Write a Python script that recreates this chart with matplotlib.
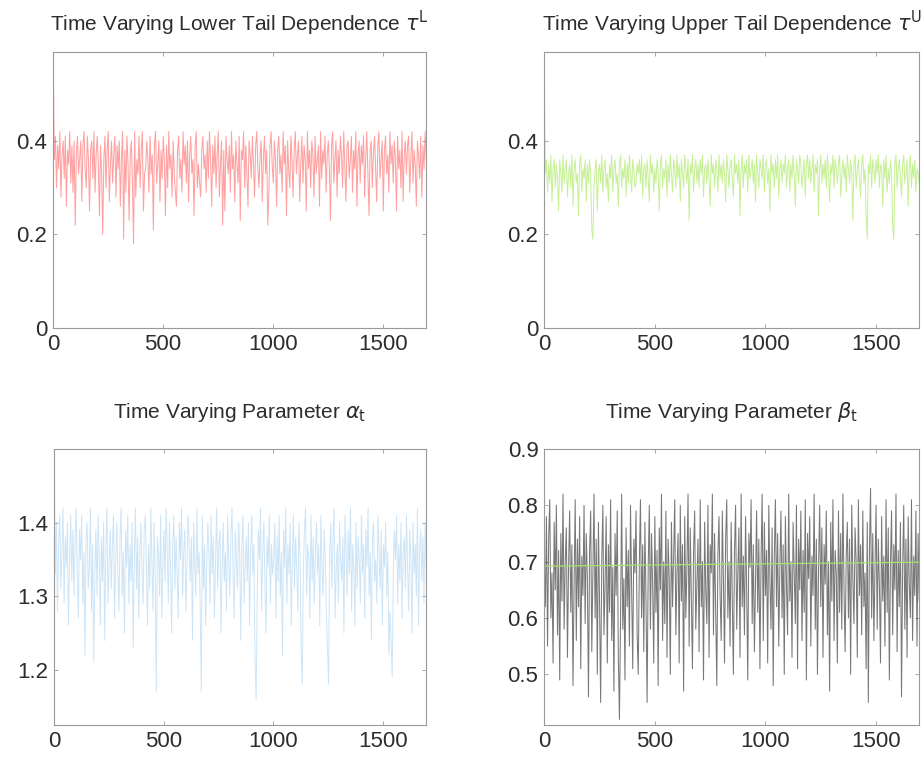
import numpy as np
import matplotlib.pyplot as plt

plt.rcParams['font.family'] = ['Liberation Sans', 'DejaVu Sans']
plt.rcParams['mathtext.fontset'] = 'dejavusans'

# filtered tail dependence and copula parameters, sampled every 5 obs
tau_L = [
    0.59, 0.36, 0.41, 0.30, 0.39, 0.34, 0.42, 0.28, 0.37, 0.40, 0.32, 0.41, 0.26, 0.38, 0.35, 0.42, 0.31, 0.39, 0.29, 0.40,
    0.22, 0.37, 0.41, 0.33, 0.36, 0.40, 0.27, 0.39, 0.42, 0.34, 0.30, 0.41, 0.36, 0.25, 0.38, 0.40, 0.32, 0.42, 0.29, 0.37,
    0.41, 0.35, 0.24, 0.39, 0.33, 0.20, 0.36, 0.41, 0.30, 0.38, 0.42, 0.27, 0.35, 0.40, 0.31, 0.37, 0.41, 0.28, 0.39, 0.34,
    0.40, 0.26, 0.36, 0.42, 0.19, 0.38, 0.29, 0.41, 0.35, 0.23, 0.37, 0.40, 0.31, 0.18, 0.42, 0.28, 0.36, 0.33, 0.41, 0.30,
    0.38, 0.42, 0.25, 0.33, 0.34, 0.40, 0.36, 0.29, 0.41, 0.33, 0.37, 0.21, 0.39, 0.42, 0.31, 0.35, 0.40, 0.27, 0.38, 0.32,
    0.41, 0.36, 0.24, 0.39, 0.30, 0.42, 0.34, 0.37, 0.28, 0.40, 0.33, 0.29, 0.26, 0.38, 0.41, 0.32, 0.36, 0.29, 0.42, 0.35,
    0.39, 0.31, 0.40, 0.27, 0.37, 0.41, 0.33, 0.36, 0.24, 0.39, 0.42, 0.30, 0.35, 0.31, 0.28, 0.38, 0.41, 0.34, 0.37, 0.29,
    0.40, 0.32, 0.42, 0.36, 0.26, 0.39, 0.33, 0.41, 0.30, 0.37, 0.42, 0.28, 0.35, 0.40, 0.22, 0.38, 0.25, 0.41, 0.36, 0.33,
    0.39, 0.29, 0.42, 0.34, 0.37, 0.27, 0.40, 0.35, 0.31, 0.41, 0.23, 0.38, 0.36, 0.42, 0.30, 0.39, 0.33, 0.26, 0.40, 0.37,
    0.32, 0.41, 0.35, 0.28, 0.39, 0.42, 0.34, 0.30, 0.37, 0.40, 0.27, 0.36, 0.41, 0.33, 0.38, 0.22, 0.29, 0.39, 0.42, 0.35,
    0.31, 0.40, 0.36, 0.26, 0.38, 0.41, 0.33, 0.37, 0.29, 0.42, 0.35, 0.39, 0.24, 0.40, 0.34, 0.30, 0.41, 0.36, 0.28, 0.38,
    0.42, 0.33, 0.37, 0.40, 0.27, 0.35, 0.41, 0.31, 0.39, 0.36, 0.25, 0.42, 0.34, 0.38, 0.30, 0.40, 0.37, 0.28, 0.41, 0.33,
    0.36, 0.39, 0.26, 0.42, 0.32, 0.38, 0.35, 0.41, 0.29, 0.37, 0.40, 0.34, 0.23, 0.39, 0.42, 0.31, 0.36, 0.40, 0.28, 0.38,
    0.33, 0.41, 0.37, 0.30, 0.42, 0.35, 0.27, 0.39, 0.40, 0.32, 0.36, 0.41, 0.29, 0.38, 0.34, 0.42, 0.26, 0.37, 0.40, 0.31,
    0.39, 0.35, 0.41, 0.28, 0.36, 0.42, 0.33, 0.24, 0.38, 0.40, 0.30, 0.37, 0.41, 0.34, 0.27, 0.39, 0.42, 0.32, 0.36, 0.40,
    0.25, 0.38, 0.41, 0.33, 0.37, 0.29, 0.42, 0.35, 0.39, 0.31, 0.40, 0.36, 0.25, 0.41, 0.34, 0.38, 0.30, 0.42, 0.27, 0.37,
    0.40, 0.33, 0.39, 0.41, 0.29, 0.36, 0.42, 0.31, 0.38, 0.35, 0.26, 0.40, 0.37, 0.32, 0.41, 0.28, 0.39, 0.34, 0.42, 0.36,
]

tau_U = [
    0.58, 0.33, 0.36, 0.29, 0.35, 0.31, 0.37, 0.27, 0.34, 0.36, 0.30, 0.35, 0.32, 0.25, 0.36, 0.33, 0.29, 0.37, 0.31, 0.34,
    0.36, 0.28, 0.33, 0.35, 0.30, 0.37, 0.26, 0.34, 0.36, 0.31, 0.33, 0.24, 0.35, 0.37, 0.29, 0.34, 0.32, 0.36, 0.27, 0.35,
    0.31, 0.36, 0.33, 0.21, 0.19, 0.30, 0.34, 0.36, 0.25, 0.33, 0.35, 0.31, 0.37, 0.29, 0.34, 0.36, 0.30, 0.33, 0.27, 0.35,
    0.32, 0.37, 0.29, 0.34, 0.36, 0.31, 0.33, 0.26, 0.35, 0.37, 0.30, 0.34, 0.32, 0.36, 0.28, 0.35, 0.31, 0.37, 0.33, 0.29,
    0.36, 0.34, 0.30, 0.31, 0.35, 0.33, 0.36, 0.31, 0.37, 0.28, 0.34, 0.35, 0.30, 0.36, 0.32, 0.27, 0.37, 0.33, 0.35, 0.29,
    0.34, 0.31, 0.36, 0.33, 0.25, 0.35, 0.37, 0.30, 0.34, 0.32, 0.36, 0.28, 0.35, 0.31, 0.37, 0.33, 0.29, 0.36, 0.34, 0.30,
    0.37, 0.32, 0.35, 0.27, 0.36, 0.33, 0.30, 0.37, 0.34, 0.31, 0.36, 0.23, 0.35, 0.33, 0.37, 0.29, 0.34, 0.36, 0.31, 0.35,
    0.30, 0.36, 0.33, 0.37, 0.28, 0.34, 0.35, 0.31, 0.36, 0.32, 0.26, 0.37, 0.33, 0.35, 0.30, 0.36, 0.34, 0.29, 0.37, 0.32,
    0.35, 0.31, 0.36, 0.33, 0.27, 0.37, 0.34, 0.30, 0.35, 0.36, 0.32, 0.28, 0.37, 0.33, 0.35, 0.31, 0.36, 0.24, 0.34, 0.37,
    0.30, 0.35, 0.33, 0.36, 0.29, 0.37, 0.32, 0.34, 0.36, 0.31, 0.35, 0.27, 0.37, 0.33, 0.30, 0.36, 0.34, 0.32, 0.37, 0.29,
    0.35, 0.36, 0.31, 0.34, 0.25, 0.37, 0.33, 0.35, 0.30, 0.36, 0.32, 0.37, 0.28, 0.34, 0.36, 0.31, 0.35, 0.33, 0.37, 0.30,
    0.34, 0.36, 0.29, 0.35, 0.32, 0.37, 0.33, 0.26, 0.36, 0.34, 0.31, 0.37, 0.35, 0.30, 0.33, 0.36, 0.28, 0.35, 0.37, 0.32,
    0.36, 0.31, 0.34, 0.37, 0.29, 0.35, 0.33, 0.36, 0.24, 0.34, 0.37, 0.31, 0.35, 0.32, 0.36, 0.30, 0.37, 0.33, 0.27, 0.35,
    0.33, 0.37, 0.30, 0.36, 0.34, 0.31, 0.35, 0.37, 0.28, 0.33, 0.36, 0.32, 0.35, 0.29, 0.37, 0.34, 0.31, 0.36, 0.33, 0.23,
    0.35, 0.37, 0.30, 0.34, 0.36, 0.32, 0.28, 0.35, 0.37, 0.31, 0.34, 0.24, 0.19, 0.35, 0.33, 0.37, 0.30, 0.36, 0.34, 0.31,
    0.36, 0.33, 0.37, 0.30, 0.35, 0.34, 0.26, 0.36, 0.32, 0.37, 0.29, 0.34, 0.31, 0.36, 0.33, 0.22, 0.19, 0.35, 0.37, 0.30,
    0.34, 0.36, 0.32, 0.28, 0.35, 0.37, 0.31, 0.33, 0.36, 0.26, 0.34, 0.37, 0.30, 0.35, 0.32, 0.36, 0.29, 0.34, 0.33, 0.31,
]

alpha_t = [
    1.50, 1.33, 1.40, 1.28, 1.37, 1.41, 1.31, 1.36, 1.42, 1.29, 1.38, 1.34, 1.40, 1.26, 1.35, 1.41, 1.32, 1.39, 1.30, 1.37,
    1.42, 1.33, 1.27, 1.39, 1.35, 1.41, 1.29, 1.36, 1.22, 1.38, 1.40, 1.31, 1.34, 1.42, 1.28, 1.37, 1.21, 1.33, 1.39, 1.30,
    1.41, 1.35, 1.26, 1.38, 1.32, 1.40, 1.24, 1.36, 1.42, 1.29, 1.34, 1.39, 1.31, 1.37, 1.41, 1.27, 1.35, 1.40, 1.33, 1.28,
    1.38, 1.42, 1.30, 1.36, 1.25, 1.39, 1.34, 1.41, 1.29, 1.37, 1.32, 1.40, 1.23, 1.35, 1.42, 1.31, 1.38, 1.27, 1.36, 1.40,
    1.33, 1.29, 1.39, 1.41, 1.34, 1.26, 1.37, 1.31, 1.42, 1.35, 1.28, 1.40, 1.33, 1.17, 1.38, 1.36, 1.30, 1.41, 1.27, 1.34,
    1.39, 1.32, 1.42, 1.36, 1.29, 1.40, 1.34, 1.25, 1.37, 1.41, 1.31, 1.38, 1.33, 1.27, 1.40, 1.35, 1.42, 1.30, 1.36, 1.39,
    1.28, 1.34, 1.41, 1.37, 1.32, 1.38, 1.24, 1.40, 1.35, 1.30, 1.42, 1.33, 1.36, 1.29, 1.17, 1.41, 1.31, 1.37, 1.26, 1.34,
    1.40, 1.36, 1.29, 1.41, 1.33, 1.38, 1.27, 1.35, 1.42, 1.31, 1.37, 1.39, 1.25, 1.34, 1.40, 1.32, 1.36, 1.28, 1.41, 1.35,
    1.30, 1.38, 1.42, 1.33, 1.27, 1.39, 1.35, 1.31, 1.40, 1.36, 1.24, 1.37, 1.41, 1.29, 1.34, 1.38, 1.32, 1.40, 1.26, 1.36,
    1.41, 1.33, 1.37, 1.21, 1.16, 1.30, 1.39, 1.35, 1.42, 1.28, 1.36, 1.40, 1.32, 1.25, 1.38, 1.34, 1.41, 1.29, 1.37, 1.33,
    1.35, 1.40, 1.27, 1.38, 1.32, 1.41, 1.30, 1.36, 1.22, 1.39, 1.34, 1.42, 1.29, 1.37, 1.33, 1.40, 1.26, 1.35, 1.41, 1.31,
    1.38, 1.34, 1.28, 1.40, 1.36, 1.23, 1.18, 1.33, 1.39, 1.42, 1.30, 1.37, 1.35, 1.27, 1.41, 1.32, 1.38, 1.29, 1.36, 1.40,
    1.33, 1.37, 1.26, 1.41, 1.34, 1.30, 1.39, 1.35, 1.28, 1.23, 1.18, 1.36, 1.40, 1.31, 1.38, 1.42, 1.27, 1.34, 1.37, 1.29,
    1.40, 1.35, 1.32, 1.38, 1.25, 1.41, 1.36, 1.30, 1.39, 1.33, 1.42, 1.28, 1.37, 1.34, 1.26, 1.40, 1.31, 1.38, 1.35, 1.29,
    1.41, 1.33, 1.37, 1.27, 1.39, 1.34, 1.42, 1.30, 1.36, 1.24, 1.38, 1.40, 1.32, 1.35, 1.29, 1.41, 1.36, 1.31, 1.39, 1.26,
    1.37, 1.34, 1.40, 1.30, 1.36, 1.22, 1.28, 1.24, 1.19, 1.33, 1.39, 1.35, 1.41, 1.29, 1.37, 1.32, 1.40, 1.27, 1.36, 1.38,
    1.31, 1.41, 1.34, 1.28, 1.39, 1.35, 1.25, 1.40, 1.33, 1.37, 1.30, 1.42, 1.26, 1.36, 1.39, 1.32, 1.38, 1.29, 1.40, 1.34,
]

beta_t = [
    0.70, 0.62, 0.78, 0.55, 0.74, 0.81, 0.60, 0.68, 0.52, 0.77, 0.65, 0.80, 0.57, 0.72, 0.49, 0.75, 0.63, 0.82, 0.58, 0.70,
    0.76, 0.53, 0.69, 0.79, 0.61, 0.73, 0.48, 0.66, 0.81, 0.56, 0.74, 0.62, 0.78, 0.51, 0.71, 0.64, 0.80, 0.59, 0.75, 0.67,
    0.46, 0.72, 0.79, 0.54, 0.68, 0.82, 0.60, 0.74, 0.50, 0.77, 0.63, 0.45, 0.70, 0.80, 0.57, 0.66, 0.78, 0.52, 0.73, 0.61,
    0.81, 0.56, 0.69, 0.47, 0.75, 0.64, 0.79, 0.53, 0.42, 0.60, 0.82, 0.58, 0.67, 0.49, 0.76, 0.62, 0.72, 0.55, 0.80, 0.65,
    0.51, 0.74, 0.68, 0.79, 0.57, 0.50, 0.70, 0.81, 0.60, 0.73, 0.54, 0.77, 0.63, 0.45, 0.69, 0.80, 0.58, 0.75, 0.66, 0.52,
    0.78, 0.61, 0.72, 0.48, 0.76, 0.65, 0.82, 0.56, 0.70, 0.59, 0.79, 0.53, 0.74, 0.67, 0.50, 0.77, 0.62, 0.71, 0.81, 0.57,
    0.68, 0.75, 0.52, 0.80, 0.63, 0.73, 0.47, 0.78, 0.60, 0.69, 0.82, 0.55, 0.76, 0.64, 0.51, 0.72, 0.79, 0.58, 0.66, 0.74,
    0.54, 0.81, 0.62, 0.70, 0.49, 0.77, 0.65, 0.59, 0.80, 0.53, 0.73, 0.68, 0.82, 0.57, 0.75, 0.61, 0.48, 0.71, 0.78, 0.64,
    0.56, 0.79, 0.67, 0.52, 0.74, 0.81, 0.60, 0.70, 0.55, 0.77, 0.63, 0.50, 0.72, 0.80, 0.58, 0.68, 0.76, 0.53, 0.82, 0.62,
    0.71, 0.57, 0.78, 0.65, 0.49, 0.75, 0.69, 0.81, 0.59, 0.73, 0.54, 0.66, 0.79, 0.61, 0.74, 0.51, 0.70, 0.82, 0.56, 0.77,
    0.64, 0.72, 0.52, 0.80, 0.67, 0.58, 0.76, 0.48, 0.71, 0.81, 0.62, 0.75, 0.55, 0.69, 0.79, 0.60, 0.73, 0.50, 0.78, 0.66,
    0.57, 0.82, 0.63, 0.70, 0.53, 0.77, 0.68, 0.59, 0.80, 0.51, 0.74, 0.65, 0.79, 0.56, 0.72, 0.61, 0.81, 0.49, 0.75, 0.67,
    0.78, 0.55, 0.71, 0.64, 0.82, 0.58, 0.74, 0.50, 0.69, 0.80, 0.62, 0.76, 0.53, 0.73, 0.66, 0.79, 0.57, 0.70, 0.47, 0.77,
    0.63, 0.81, 0.56, 0.72, 0.68, 0.52, 0.79, 0.61, 0.75, 0.58, 0.82, 0.65, 0.54, 0.71, 0.77, 0.60, 0.74, 0.50, 0.80, 0.67,
    0.59, 0.76, 0.70, 0.53, 0.81, 0.64, 0.73, 0.57, 0.79, 0.62, 0.68, 0.51, 0.77, 0.45, 0.72, 0.83, 0.60, 0.75, 0.56, 0.69,
    0.80, 0.58, 0.74, 0.66, 0.52, 0.78, 0.63, 0.71, 0.55, 0.81, 0.61, 0.76, 0.49, 0.70, 0.79, 0.57, 0.73, 0.65, 0.82, 0.54,
    0.72, 0.62, 0.77, 0.46, 0.69, 0.80, 0.58, 0.74, 0.53, 0.78, 0.66, 0.60, 0.81, 0.56, 0.71, 0.64, 0.79, 0.55, 0.75, 0.63,
]

# linear fit drawn through the beta path
beta_fit = [0.692, 0.699]
n_obs = 1696

t = np.linspace(1, n_obs, len(tau_L))
t_fit = [1, n_obs]

fig = plt.figure(figsize=(9.24, 7.64), dpi=100)
W, H = 924, 764

def make_ax(x0, y0, x1, y1):
    return fig.add_axes([x0 / W, 1 - y1 / H, (x1 - x0) / W, (y1 - y0) / H])

ax1 = make_ax(53, 52, 426, 328)
ax2 = make_ax(544, 52, 919, 328)
ax3 = make_ax(54, 449, 426, 725)
ax4 = make_ax(544, 449, 919, 725)

ax1.plot(t, tau_L, color='#ff5555', lw=0.75, alpha=0.55)
ax2.plot(t, tau_U, color='#a6e85a', lw=0.7, alpha=0.65)
ax3.plot(t, alpha_t, color='#9ccbee', lw=0.7, alpha=0.5)
ax4.plot(t, beta_t, color='#262626', lw=0.75, alpha=0.62)
ax4.plot(t_fit, beta_fit, color='#a8e070', lw=0.9)

txt = '#2d2d2d'
tsize = 15
ax1.set_title(r'Time Varying Lower Tail Dependence $\tau^{\mathrm{L}}$', fontsize=tsize, color=txt, pad=15)
ax2.set_title(r'Time Varying Upper Tail Dependence $\tau^{\mathrm{U}}$', fontsize=tsize, color=txt, pad=15)
ax3.set_title(r'Time Varying Parameter $\alpha_{\mathrm{t}}$', fontsize=tsize, color=txt, pad=22)
ax4.set_title(r'Time Varying Parameter $\beta_{\mathrm{t}}$', fontsize=tsize, color=txt, pad=22)

ax1.set_ylim(0, 0.59)
ax1.set_yticks([0, 0.2, 0.4])
ax2.set_ylim(0, 0.59)
ax2.set_yticks([0, 0.2, 0.4])
ax3.set_ylim(1.125, 1.5)
ax3.set_yticks([1.2, 1.3, 1.4])
ax4.set_ylim(0.41, 0.9)
ax4.set_yticks([0.5, 0.6, 0.7, 0.8, 0.9])

for ax in (ax1, ax2, ax3, ax4):
    ax.set_xlim(0, 1695)
    ax.set_xticks([0, 500, 1000, 1500])
    ax.tick_params(direction='in', length=3, width=0.6, colors='#999999',
                   labelcolor=txt, labelsize=16, top=True, right=True, pad=4)
    for s in ax.spines.values():
        s.set_color('#9a9a9a')
        s.set_linewidth(0.8)
    ax.yaxis.set_major_formatter(plt.FuncFormatter(lambda v, p: '%g' % round(v, 2)))

fig.savefig('out.png', dpi=100)
